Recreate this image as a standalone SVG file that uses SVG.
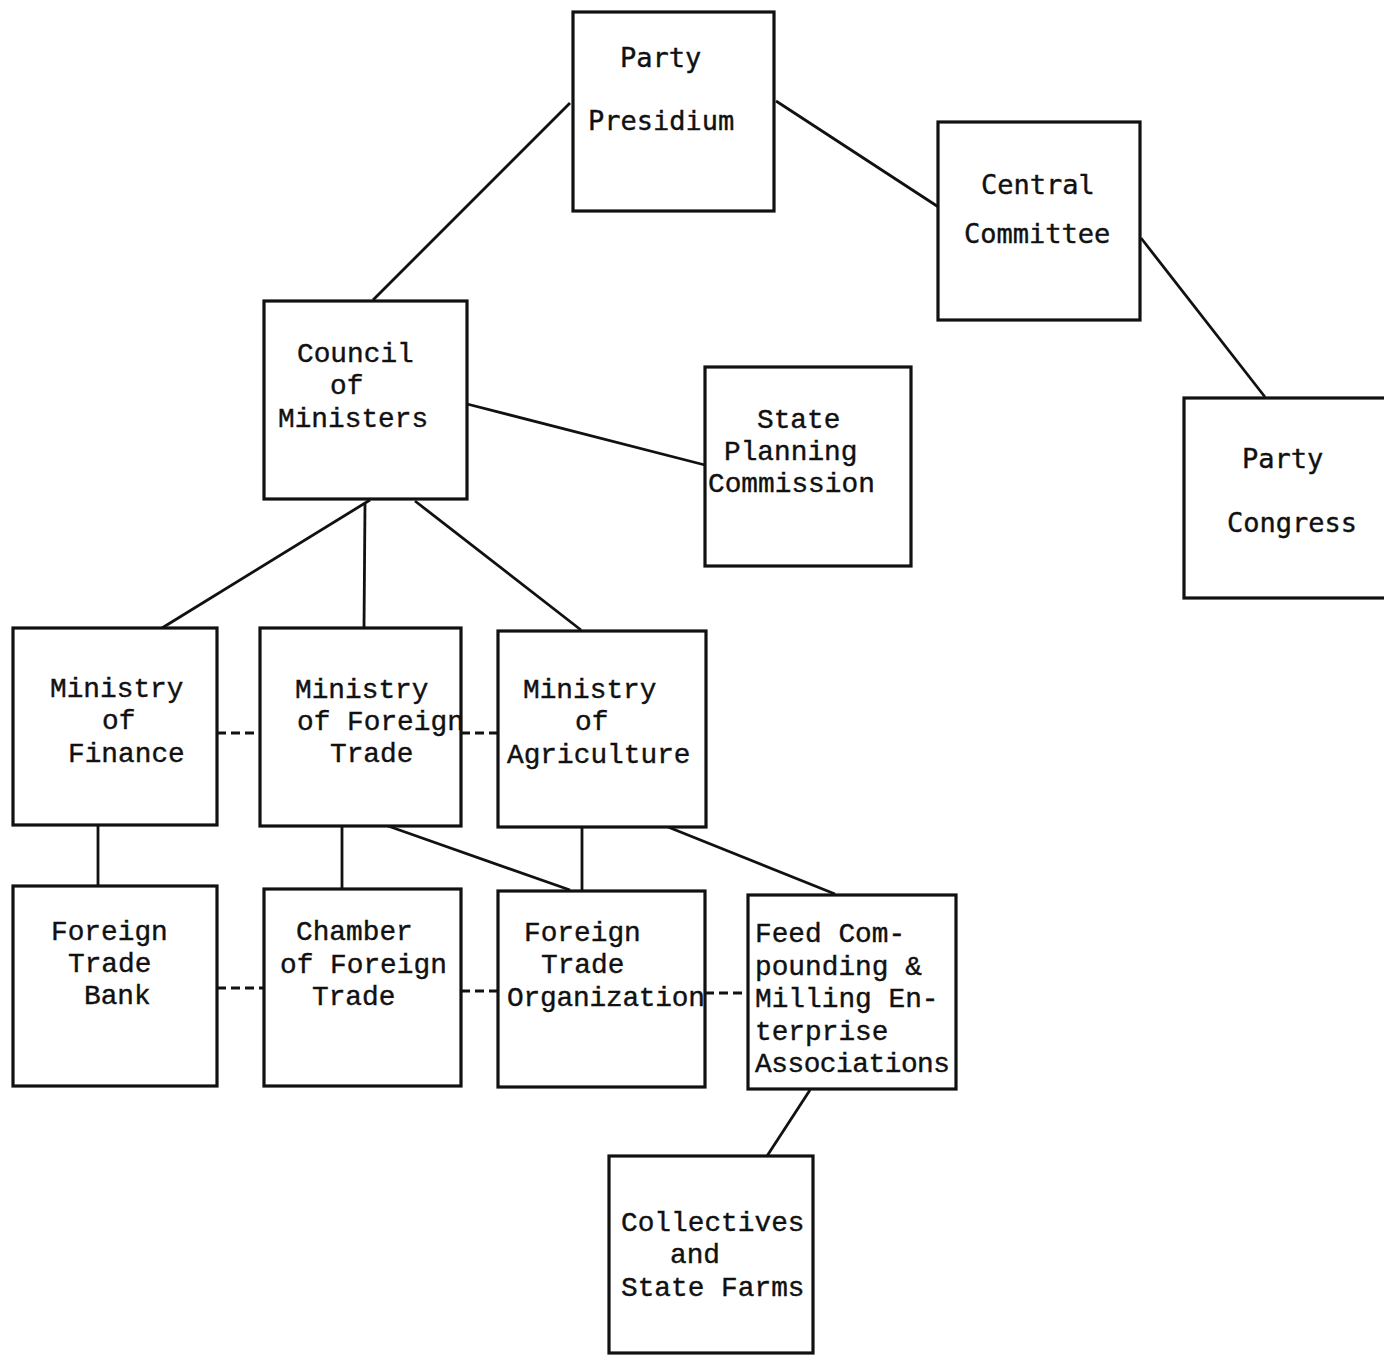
<svg xmlns="http://www.w3.org/2000/svg" width="1384" height="1355" viewBox="0 0 1384 1355">
<style>
.box{fill:#fff;stroke:#111;stroke-width:3.2}
.ln{stroke:#111;stroke-width:2.8;fill:none}
.dash{stroke:#111;stroke-width:3;fill:none;stroke-dasharray:9,5}
text{font-family:"Liberation Mono","Courier New",monospace;font-size:27.8px;fill:#111;stroke:#111;stroke-width:0.4}
.sans{font-family:"DejaVu Sans Mono","Liberation Mono",monospace;font-size:27px}
</style>
<rect width="1384" height="1355" fill="#fff"/>
<g id="connectors">
<line class="ln" x1="570" y1="103" x2="373" y2="300"/>
<line class="ln" x1="776" y1="101" x2="940" y2="208"/>
<line class="ln" x1="1141" y1="238" x2="1265" y2="397"/>
<line class="ln" x1="467" y1="404" x2="705" y2="465"/>
<line class="ln" x1="370" y1="500" x2="162" y2="628"/>
<line class="ln" x1="365" y1="504" x2="364" y2="627"/>
<line class="ln" x1="415" y1="501" x2="581" y2="630"/>
<line class="dash" x1="217" y1="733" x2="260" y2="733"/>
<line class="dash" x1="461" y1="733" x2="498" y2="733"/>
<line class="ln" x1="98" y1="826" x2="98" y2="886"/>
<line class="ln" x1="342" y1="826" x2="342" y2="889"/>
<line class="ln" x1="388" y1="826" x2="570" y2="890"/>
<line class="ln" x1="582" y1="827" x2="582" y2="891"/>
<line class="ln" x1="668" y1="827" x2="835" y2="894"/>
<line class="dash" x1="217" y1="988" x2="264" y2="988"/>
<line class="dash" x1="461" y1="991" x2="498" y2="991"/>
<line class="dash" x1="705" y1="993" x2="748" y2="993"/>
<line class="ln" x1="810" y1="1090" x2="767" y2="1156"/>
</g>
<g id="party-presidium">
<rect class="box" x="573" y="12" width="201" height="199"/>
<text class="sans" x="620" y="67">Party</text>
<text class="sans" x="588" y="130">Presidium</text>
</g>
<g id="central-committee">
<rect class="box" x="938" y="122" width="202" height="198"/>
<text class="sans" x="981" y="194">Central</text>
<text class="sans" x="964" y="243">Committee</text>
</g>
<g id="party-congress">
<rect class="box" x="1184" y="398" width="202" height="200"/>
<text class="sans" x="1242" y="468">Party</text>
<text class="sans" x="1227" y="532">Congress</text>
</g>
<g id="council-of-ministers">
<rect class="box" x="264" y="301" width="203" height="198"/>
<text x="297" y="362">Council</text>
<text x="330" y="394">of</text>
<text x="278" y="427">Ministers</text>
</g>
<g id="state-planning-commission">
<rect class="box" x="705" y="367" width="206" height="199"/>
<text x="757" y="428">State</text>
<text x="724" y="460">Planning</text>
<text x="708" y="492">Commission</text>
</g>
<g id="ministry-of-finance">
<rect class="box" x="13" y="628" width="204" height="197"/>
<text x="50" y="697">Ministry</text>
<text x="102" y="729">of</text>
<text x="68" y="762">Finance</text>
</g>
<g id="ministry-of-foreign-trade">
<rect class="box" x="260" y="628" width="201" height="198"/>
<text x="295" y="698">Ministry</text>
<text x="297" y="730">of Foreign</text>
<text x="330" y="762">Trade</text>
</g>
<g id="ministry-of-agriculture">
<rect class="box" x="498" y="631" width="208" height="196"/>
<text x="523" y="698">Ministry</text>
<text x="575" y="730">of</text>
<text x="507" y="763">Agriculture</text>
</g>
<g id="foreign-trade-bank">
<rect class="box" x="13" y="886" width="204" height="200"/>
<text x="51" y="940">Foreign</text>
<text x="68" y="972">Trade</text>
<text x="84" y="1004">Bank</text>
</g>
<g id="chamber-of-foreign-trade">
<rect class="box" x="264" y="889" width="197" height="197"/>
<text x="296" y="940">Chamber</text>
<text x="280" y="973">of Foreign</text>
<text x="312" y="1005">Trade</text>
</g>
<g id="foreign-trade-organization">
<rect class="box" x="498" y="891" width="207" height="196"/>
<text x="524" y="941">Foreign</text>
<text x="541" y="973">Trade</text>
<text x="507" y="1006" textLength="198">Organization</text>
</g>
<g id="feed-compounding">
<rect class="box" x="748" y="895" width="208" height="194"/>
<text x="755" y="942">Feed Com-</text>
<text x="755" y="975">pounding &amp;</text>
<text x="755" y="1007">Milling En-</text>
<text x="755" y="1040">terprise</text>
<text x="755" y="1072" textLength="195">Associations</text>
</g>
<g id="collectives-and-state-farms">
<rect class="box" x="609" y="1156" width="204" height="197"/>
<text x="621" y="1231">Collectives</text>
<text x="670" y="1263">and</text>
<text x="621" y="1296">State Farms</text>
</g>
</svg>
